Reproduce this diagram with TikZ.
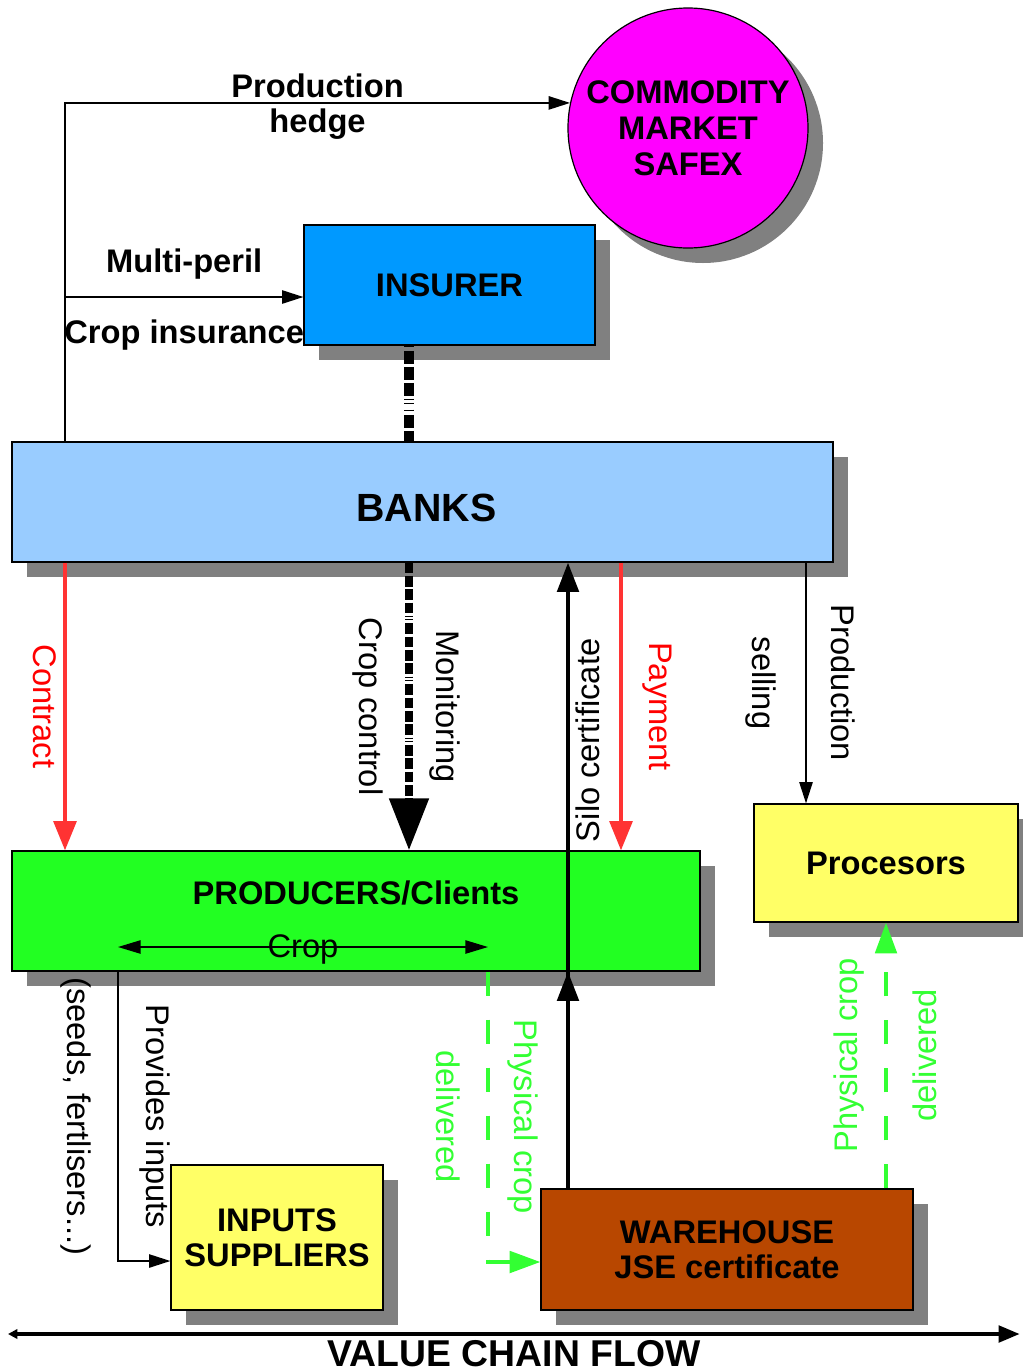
\documentclass[tikz,border=0pt]{standalone}
\usepackage{fontspec}
\setmainfont{Liberation Sans}
\usetikzlibrary{calc,positioning,arrows.meta,shadows,shapes.geometric}

\definecolor{safexpink}{HTML}{FF00FF}
\definecolor{insurerblue}{HTML}{0099FF}
\definecolor{bankblue}{HTML}{99CCFF}
\definecolor{prodgreen}{HTML}{22FF22}
\definecolor{procyellow}{HTML}{FFFF66}
\definecolor{whbrown}{HTML}{B84700}
\definecolor{flowred}{HTML}{FF3333}
\definecolor{cropgreen}{HTML}{33FF33}

\tikzset{
>={Triangle[length=16pt,width=10pt]},
  boxshadow/.style={
    drop shadow={shadow xshift=11.25pt, shadow yshift=-11.25pt,
      fill=black!50, opacity=1}},
  block/.style={
    rectangle,
    draw=black, line width=0.9pt,
    boxshadow,
    % text width=10em,
    inner sep=0pt,
    align=center,
    font=\fontsize{24.5}{26.5}\selectfont\bfseries},
  market/.style={
    circle,
    draw=black, line width=0.9pt,
    fill=safexpink,
    minimum size=180pt,
    boxshadow,
    inner sep=0pt,
    align=center,
    font=\fontsize{24.5}{27}\selectfont\bfseries},
  tag/.style={inner sep=0pt, font=\fontsize{24.5}{27}\selectfont},
  btag/.style={inner sep=0pt, font=\fontsize{24.5}{27}\selectfont\bfseries},
  line/.style={draw, line width=1.1pt, ->},
  redline/.style={draw=flowred, line width=3pt,
    -{Triangle[length=22pt,width=17pt]}},
  siloline/.style={draw, line width=3.2pt,
    -{Triangle[length=22pt,width=16pt]}},
  greenline/.style={draw=cropgreen, line width=3pt,
    dash pattern=on 18pt off 18pt,
    -{Triangle[length=23pt,width=16pt]}},
  monitor/.style={draw, line width=6pt,
    dash pattern=on 8pt off 2pt on 8pt off 2pt on 8pt off 2pt on 8pt off 2pt
      on 0.8pt off 1.5pt on 0.8pt off 2.5pt},
}

\begin{document}
\begin{tikzpicture}
[x=0.75pt, y=-0.75pt]
\useasboundingbox (0,0) rectangle (1023,1367);

    % columns of the connectors
    \coordinate (xl) at (65,0);
    \coordinate (xi) at (118,0);
    \coordinate (xm) at (409,0);
    \coordinate (xg) at (488,0);
    \coordinate (xs) at (568,0);
    \coordinate (xp) at (621,0);
    \coordinate (xr) at (806,0);
    \coordinate (xq) at (886,0);

    \node [market](safex) at (688,128) {COMMODITY\\MARKET\\SAFEX};
    \node [block, fill=insurerblue, minimum width=218.25pt, minimum height=90pt](insurer)
        at (449.5,285) {INSURER};
    \node [block, fill=bankblue, minimum width=615.75pt, minimum height=90pt,
        font=\fontsize{29.5}{32}\selectfont\bfseries, text height=30pt](banks)
        at (422.5,502) {\hspace*{6pt}BANKS};
    \node [block, fill=prodgreen, minimum width=516pt, minimum height=90pt](prod)
        at (356,911) {};
    \node [btag](prodtext) at ($(prod.center)+(0,-18)$) {PRODUCERS/Clients};
    \node [block, fill=procyellow, minimum width=198pt, minimum height=88.5pt](proc)
        at (886,863) {Procesors};
    \node [block, fill=procyellow, minimum width=159pt, minimum height=108.75pt](inputs)
        at (277,1237.5) {INPUTS\\SUPPLIERS};
    \node [block, fill=whbrown, minimum width=279pt, minimum height=90.75pt](wh)
        at (727,1249.5) {WAREHOUSE\\JSE certificate};

    \coordinate (perilin) at ($(insurer.west)+(0,12)$);
    \coordinate (croprow) at ($(prod.center)+(0,36)$);
    \coordinate (inputsin) at ($(inputs.west)+(0,23.5)$);
    \coordinate (whin) at ($(wh.west)+(0,12.5)$);
    \coordinate (flowl) at (8,1334);
    \coordinate (flowr) at (1020,1334);

    % top: hedge and insurance
    \draw[line] (banks.north -| xl) |- (safex.168)
        node[btag, pos=0.75, above=3.5pt]{Production}
        node[btag, pos=0.75, below=4pt]{hedge};
    \draw[line] (perilin -| xl) -- (perilin)
        node[btag, midway, above=12.5pt]{Multi-peril}
        node[btag, midway, below=16.5pt]{Crop insurance};
    \draw[draw, line width=7pt,
        dash pattern=on 1pt off 3pt on 10pt off 2pt on 10pt off 2pt on 10pt off 2pt on 1pt off 2pt on 1pt off 4pt]
        (insurer.south -| xm) -- (banks.north -| xm);

    % banks down
    \draw[redline] (banks.south -| xl) -- (prod.north -| xl)
        node[tag, midway, xshift=-15pt, rotate=-90, text=red]{Contract};
    \draw[monitor, -{Triangle[length=39pt,width=28.5pt]}] (banks.south -| xm) -- (prod.north -| xm)
        node[tag, midway, xshift=-30.75pt, rotate=-90]{Crop control}
        node[tag, midway, xshift=27pt, rotate=-90]{Monitoring};
    \draw[redline] (banks.south -| xp) -- (prod.north -| xp)
        node[tag, midway, xshift=27pt, rotate=-90, text=red]{Payment};
    \draw[line] (banks.south -| xr) -- (proc.north -| xr)
        node[tag, midway, xshift=-33.75pt, rotate=-90]{selling}
        node[tag, midway, xshift=27.75pt, rotate=-90]{Production};

    % warehouse up
    \draw[siloline] (wh.north -| xs) -- (banks.south -| xs)
        node[tag, pos=0.716, xshift=15pt, rotate=90]{Silo certificate};
    \draw[siloline] (wh.north -| xs) -- (prod.south -| xs);

    % crop
    \draw[line width=1.1pt, {Triangle[length=17pt,width=10pt]}-{Triangle[length=17pt,width=10pt]}]
        (croprow -| xi) -- (croprow -| xg)
        node[tag, midway, yshift=-2pt]{Crop};
    \draw[line] (prod.south -| xi) |- (inputsin)
        node[tag, pos=0.25, xshift=27.75pt, rotate=-90]{Provides inputs}
        node[tag, pos=0.25, xshift=-31.5pt, rotate=-90]{(seeds, fertlisers...)};
    \draw[greenline] (prod.south -| xg) |- (whin)
        node[tag, pos=0.25, xshift=26.25pt, rotate=-90, text=cropgreen]{Physical crop}
        node[tag, pos=0.25, xshift=-30pt, rotate=-90, text=cropgreen]{delivered};
    \draw[greenline] (wh.north -| xq) -- (proc.south -| xq)
        node[tag, midway, xshift=-27.75pt, rotate=90, text=cropgreen]{Physical crop}
        node[tag, midway, xshift=29.25pt, rotate=90, text=cropgreen]{delivered};

    % value chain
    \draw[line width=3.6pt, {Triangle[length=7pt,width=7pt]}-{Triangle[length=16pt,width=12pt]}]
        (flowl) -- (flowr)
        node[midway, anchor=base, yshift=-24pt, inner sep=0pt,
            font=\fontsize{28}{30}\selectfont\bfseries]{VALUE CHAIN FLOW};

\end{tikzpicture}
\end{document}
